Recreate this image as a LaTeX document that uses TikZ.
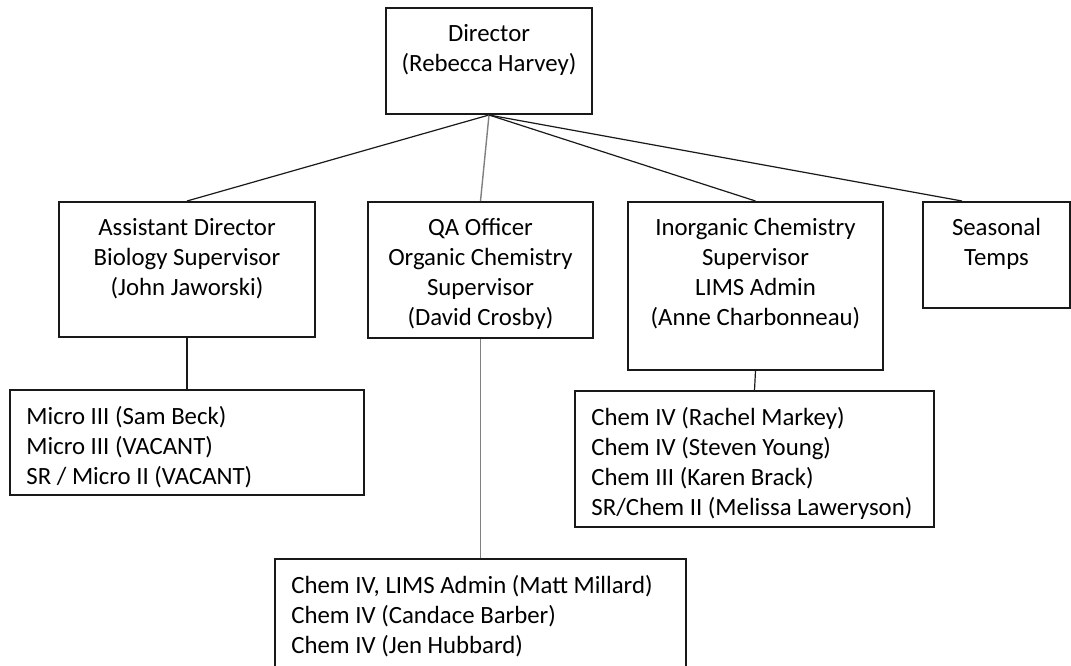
\documentclass[tikz,border=0pt]{standalone}
\usepackage{fontspec}
\setmainfont{Carlito}
\usepackage{tikz}
\usetikzlibrary{calc}
\tikzset{box/.style 2 args={rectangle,draw=black!90,line width=1pt,inner sep=0pt,minimum width=#1*0.5pt,minimum height=#2*0.5pt}}
\tikzset{boxtext/.style={anchor=north,align=center,inner sep=0pt,yshift=-8.5pt,font=\fontsize{12.4}{15}\selectfont}}
\tikzset{listtext/.style={anchor=north west,align=left,inner sep=0pt,xshift=8.5pt,yshift=-8.5pt,font=\fontsize{12.4}{15}\selectfont}}
\tikzset{link/.style={draw=black!90,line width=0.6pt}}
\tikzset{qalink/.style={draw=black!50,line width=0.7pt}}

\begin{document}
\begin{tikzpicture}[x=0.5pt,y=-0.5pt]
\useasboundingbox (0,0) rectangle (1071,665);
\clip (0,0) rectangle (1071,665);
\fill[white] (0,0) rectangle (1071,665);

% boxes
\node[box={206}{106}] (dir) at (489,61) {};
\node[box={256}{135}] (asst) at (187,269.5) {};
\node[box={225}{136}] (qa) at (480.5,270) {};
\node[box={255}{168}] (inorg) at (755.5,286) {};
\node[box={147}{106}] (temps) at (996.5,255) {};
\node[box={354}{105}] (micro) at (187,442.5) {};
\node[box={359}{136}] (chem) at (754.5,459) {};
\node[box={411}{142}] (org) at (480.5,630) {};

% titles
\node[boxtext] (dirtxt) at (dir.north) {Director\\(Rebecca Harvey)};
\node[boxtext] (assttxt) at (asst.north) {Assistant Director\\Biology Supervisor\\(John Jaworski)};
\node[boxtext] (qatxt) at (qa.north) {QA Officer\\Organic Chemistry\\Supervisor\\(David Crosby)};
\node[boxtext] (inorgtxt) at (inorg.north) {Inorganic Chemistry\\Supervisor\\LIMS Admin\\(Anne Charbonneau)};
\node[boxtext] (tempstxt) at (temps.north) {Seasonal\\Temps};

% staff lists
\node[listtext] (microtxt) at (micro.north west) {Micro III (Sam Beck)\\Micro III (VACANT)\\SR / Micro II (VACANT)};
\node[listtext] (chemtxt) at (chem.north west) {Chem IV (Rachel Markey)\\Chem IV (Steven Young)\\Chem III (Karen Brack)\\SR/Chem II (Melissa Laweryson)};
\node[listtext] (orgtxt) at (org.north west) {Chem IV, LIMS Admin (Matt Millard)\\Chem IV (Candace Barber)\\Chem IV (Jen Hubbard)};

% connectors
\coordinate (tempsin) at ([xshift=20pt]temps.north west);
\draw[link] (dir.south) -- (asst.north);
\draw[qalink] (dir.south) -- (qa.north);
\draw[link] (dir.south) -- (inorg.north);
\draw[link] (dir.south) -- (tempsin);
\draw[link] (asst.south) -- (micro.north);
\draw[qalink] (qa.south) -- (org.north);
\draw[link] (inorg.south) -- (chem.north);

\end{tikzpicture}
\end{document}
